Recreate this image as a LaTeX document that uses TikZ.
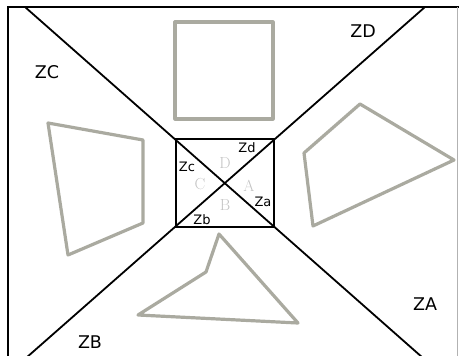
\documentclass[tikz,border=0pt]{standalone}
\usepackage{fontspec}
\newfontfamily\dvs{DejaVu Sans}
\definecolor{shapegray}{RGB}{170,170,160}
\definecolor{lettergray}{RGB}{195,195,195}
\begin{document}
\begin{tikzpicture}[x=1pt,y=-1pt,
  blk/.style={line width=1.8pt,black},
  shp/.style={line width=3.2pt,shapegray,line join=round},
  big/.style={font=\dvs\fontsize{17.5}{18}\selectfont},
  small/.style={font=\dvs\fontsize{13}{13}\selectfont},
  let/.style={font=\fontsize{16}{16}\selectfont,text=lettergray}]
\useasboundingbox (0,0) rectangle (459,356);
% frame
\coordinate (fTL) at (8,7);
\coordinate (fBL) at (8,360);
\coordinate (fTR) at (459,7);
\draw[blk] (fBL) -- (fTL) -- (fTR);
\coordinate (rT) at (457.5,7);
\coordinate (rB) at (457.5,360);
\draw[line width=0.8pt,gray!60] (rT) -- (rB);
% diagonals
\coordinate (d1a) at (25,7);
\coordinate (d1b) at (423,358);
\coordinate (d2a) at (425,7);
\coordinate (d2b) at (26,358);
\draw[blk] (d1a) -- (d1b);
\draw[blk] (d2a) -- (d2b);
% inner rectangle
\coordinate (r1) at (176,139);
\coordinate (r2) at (274,227);
\draw[blk] (r1) rectangle (r2);
% gray shapes
\coordinate (s1) at (175,22);
\coordinate (s2) at (273,119);
\draw[shp] (s1) rectangle (s2);
\coordinate (q1) at (360,104);
\coordinate (q2) at (454,160);
\coordinate (q3) at (313,226);
\coordinate (q4) at (304,153);
\draw[shp] (q1) -- (q2) -- (q3) -- (q4) -- cycle;
\coordinate (l1) at (48,123);
\coordinate (l2) at (143,140);
\coordinate (l3) at (143,223);
\coordinate (l4) at (68,255);
\draw[shp] (l1) -- (l2) -- (l3) -- (l4) -- cycle;
\coordinate (t1) at (219,234);
\coordinate (t2) at (298,323);
\coordinate (t3) at (138,315);
\coordinate (t4) at (206,272);
\draw[shp] (t1) -- (t2) -- (t3) -- (t4) -- cycle;
% outer labels
\node[big] (ZD) at (363,31) {ZD};
\node[big] (ZC) at (47,72) {ZC};
\node[big] (ZA) at (425,304) {ZA};
\node[big] (ZB) at (90,342) {ZB};
% inner labels
\node[small] (Zd) at (247,148) {Zd};
\node[small] (Zc) at (187,167) {Zc};
\node[small] (Za) at (263,202) {Za};
\node[small] (Zb) at (202,220) {Zb};
\node[let] (D) at (225,163) {D};
\node[let] (C) at (200,184) {C};
\node[let] (A) at (249,186) {A};
\node[let] (B) at (225,205) {B};
\end{tikzpicture}
\end{document}
